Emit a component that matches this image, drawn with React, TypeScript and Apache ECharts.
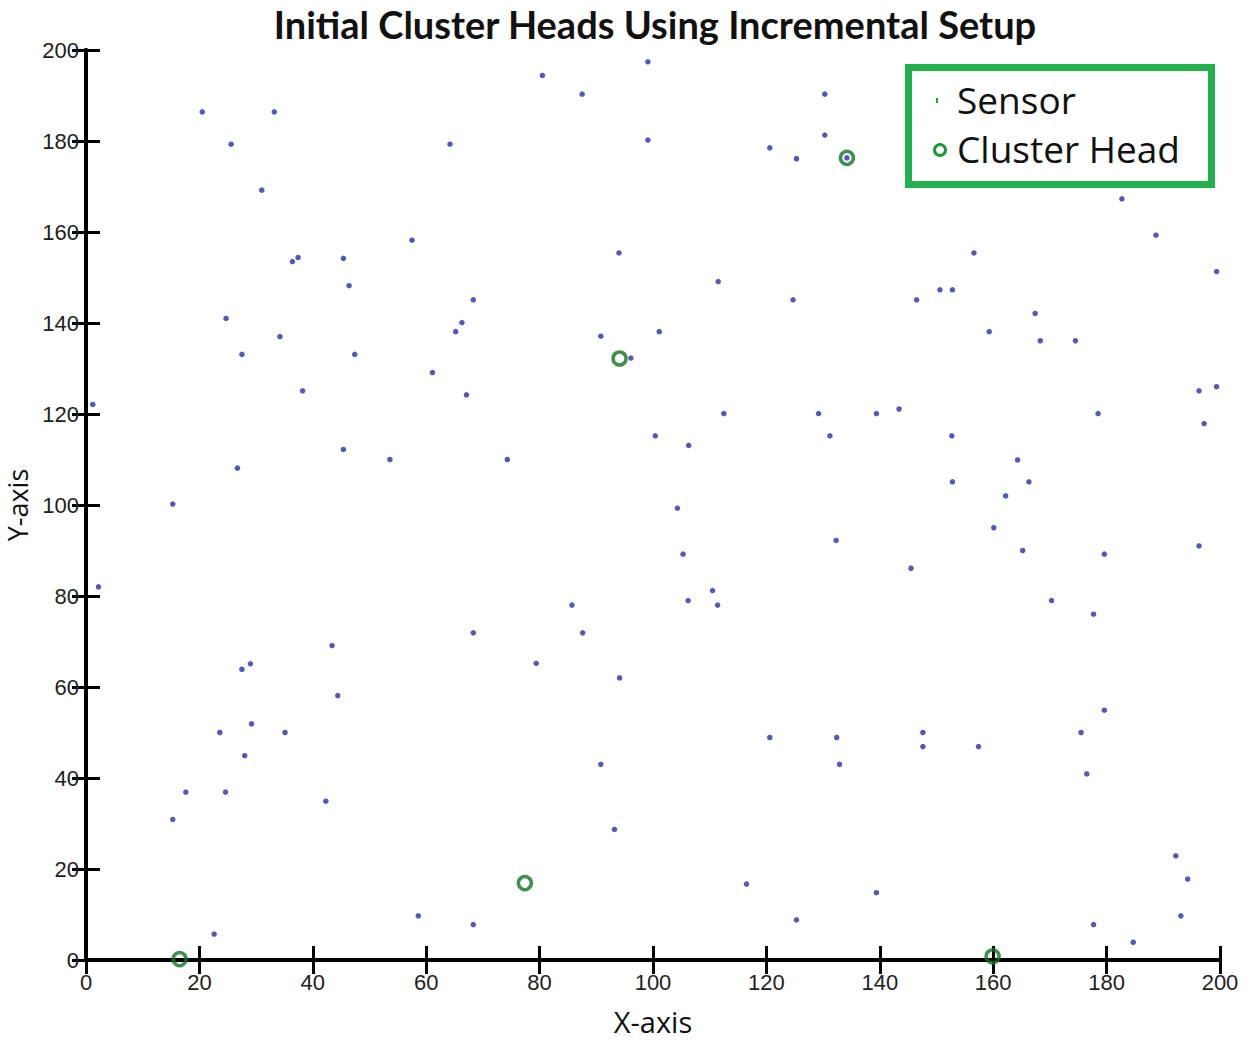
import React, { useEffect, useRef } from "react";
import * as echarts from "echarts";

const title = "Initial Cluster Heads Using Incremental Setup";
const xTicks = [0, 20, 40, 60, 80, 100, 120, 140, 160, 180, 200];
const yTicks = [0, 20, 40, 60, 80, 100, 120, 140, 160, 180, 200];

const sensors: number[][] = [
  [20.5, 186.4], [33.2, 186.4], [25.6, 179.3], [31.0, 169.2], [87.5, 190.3],
  [80.5, 194.4], [99.1, 197.4], [64.2, 179.3], [99.1, 180.2], [120.6, 178.5],
  [125.3, 176.1], [130.3, 190.3], [130.3, 181.3], [94.0, 155.4], [182.7, 167.3],
  [188.7, 159.3], [156.6, 155.4], [57.5, 158.2], [36.4, 153.5], [37.4, 154.4],
  [45.4, 154.2], [46.4, 148.2], [24.7, 141.0], [34.2, 137.0], [27.5, 133.1],
  [47.4, 133.1], [38.2, 125.1], [1.2, 122.1], [45.4, 112.2], [53.6, 110.0],
  [26.7, 108.1], [15.3, 100.2], [111.5, 149.1], [124.7, 145.1], [68.3, 145.1],
  [66.3, 140.1], [65.2, 138.1], [90.8, 137.1], [101.1, 138.1], [96.1, 132.3],
  [61.1, 129.1], [67.1, 124.2], [112.5, 120.1], [129.2, 120.1], [100.4, 115.2],
  [131.2, 115.2], [106.3, 113.1], [74.3, 110.0], [104.3, 99.3], [199.4, 151.3],
  [150.6, 147.3], [152.8, 147.3], [146.5, 145.1], [167.4, 142.1], [159.3, 138.1],
  [168.3, 136.1], [174.5, 136.1], [196.3, 125.1], [199.4, 126.0], [139.4, 120.1],
  [143.4, 121.1], [178.5, 120.1], [197.2, 117.9], [152.7, 115.2], [164.3, 109.9],
  [152.8, 105.1], [166.3, 105.1], [162.2, 102.0], [2.2, 82.0], [43.4, 69.1],
  [29.0, 65.1], [27.5, 63.9], [44.4, 58.1], [29.2, 51.9], [23.6, 50.0],
  [35.1, 50.0], [28.0, 44.9], [132.3, 92.2], [105.3, 89.2], [110.5, 81.2],
  [106.2, 79.0], [111.4, 78.0], [85.7, 78.0], [68.3, 71.9], [87.6, 71.9],
  [79.4, 65.2], [94.1, 62.0], [120.6, 48.9], [132.4, 48.9], [160.1, 95.0],
  [165.2, 90.0], [179.6, 89.2], [196.3, 91.0], [145.5, 86.1], [170.3, 79.0],
  [177.7, 76.0], [179.6, 54.9], [147.6, 50.0], [175.5, 50.0], [147.6, 46.9],
  [157.4, 46.9], [17.6, 36.9], [24.6, 36.9], [15.3, 30.9], [42.3, 34.9],
  [22.6, 5.7], [58.6, 9.7], [90.8, 43.0], [93.2, 28.7], [68.3, 7.8],
  [116.5, 16.7], [125.3, 8.8], [132.9, 43.0], [176.5, 40.9], [139.4, 14.8],
  [192.2, 22.9], [194.3, 17.8], [193.1, 9.7], [177.7, 7.8], [184.7, 3.9],
  [134.2, 176.3],
];

const clusterHeads: number[][] = [
  [16.5, 0.2], [77.4, 16.9], [94.1, 132.2], [134.2, 176.3], [159.9, 0.8],
];

const legendNames = ["Sensor", "Cluster Head"];

export default function App() {
  const ref = useRef<HTMLDivElement>(null);
  useEffect(() => {
    if (!ref.current) return;
    const chart = echarts.init(ref.current, undefined, { renderer: "svg" });
    const axisLine = { show: true, lineStyle: { color: "#000", width: 4 } };
    const tick = { show: true, inside: true, length: 14, lineStyle: { color: "#000", width: 3 } };
    const labelFont = { fontFamily: "Liberation Sans", fontSize: 22, color: "#222" };
    const option: any = {
      animation: false,
      backgroundColor: "#fff",
      title: {
        text: title,
        left: 650,
        top: 0,
        textAlign: "center",
        textStyle: { fontFamily: "Lato", fontWeight: "bold", fontSize: 38, color: "#111" },
      },
      grid: { left: 86, right: 30, top: 50, bottom: 81, containLabel: false, outerBoundsMode: "none" },
      xAxis: [
        {
          type: "value", min: 0, max: 200, interval: 20, position: "bottom",
          name: "X-axis", nameLocation: "middle", nameGap: 47,
          nameTextStyle: { fontFamily: "Open Sans", fontSize: 29, color: "#111" },
          axisLine, axisTick: tick,
          axisLabel: { ...labelFont, margin: 11, formatter: (v: number) => (xTicks.includes(v) ? String(v) : "") },
          splitLine: { show: false },
        },
        {
          type: "value", min: 0, max: 200, interval: 20, position: "top",
          axisLine, axisTick: tick, axisLabel: { show: false }, splitLine: { show: false },
        },
      ],
      yAxis: [
        {
          type: "value", min: 0, max: 200, interval: 20, position: "left",
          name: "Y-axis", nameLocation: "middle", nameGap: 45, nameRotate: 90,
          nameTextStyle: { fontFamily: "Open Sans", fontSize: 27, color: "#111", lineHeight: 28 },
          axisLine, axisTick: tick,
          axisLabel: { ...labelFont, margin: 7, formatter: (v: number) => (yTicks.includes(v) ? String(v) : "") },
          splitLine: { show: false },
        },
        {
          type: "value", min: 0, max: 200, interval: 20, position: "right",
          axisLine, axisTick: tick, axisLabel: { show: false }, splitLine: { show: false },
        },
      ],
      series: [
        {
          name: legendNames[0],
          type: "scatter",
          data: sensors,
          symbol: "circle",
          symbolSize: 5.5,
          itemStyle: { color: "#4545b0", opacity: 0.9 },
          clip: false,
          z: 2,
        },
        {
          name: legendNames[1],
          type: "scatter",
          data: clusterHeads,
          symbol: "circle",
          symbolSize: 13,
          itemStyle: { color: "rgba(255,255,255,0)", borderColor: "#0f7424", borderWidth: 3.5 },
          clip: false,
          z: 3,
        },
      ],
      graphic: [
        {
          type: "group",
          left: 905,
          top: 64,
          children: [
            { type: "rect", shape: { x: 3.5, y: 3.5, width: 303, height: 117 }, style: { fill: "#fff", stroke: "#22b14c", lineWidth: 7 } },
            { type: "rect", shape: { x: 31, y: 34, width: 2, height: 5 }, style: { fill: "#22a040" } },
            { type: "text", x: 52, y: 35, style: { text: legendNames[0], font: "37px 'Open Sans'", fill: "#111", textVerticalAlign: "middle" } },
            { type: "circle", shape: { cx: 35, cy: 86, r: 5.5 }, style: { fill: "none", stroke: "#1a9a35", lineWidth: 3 } },
            { type: "text", x: 52, y: 84, style: { text: legendNames[1], font: "37px 'Open Sans'", fill: "#111", textVerticalAlign: "middle" } },
          ],
        },
      ],
    };
    chart.setOption(option);
    return () => chart.dispose();
  }, []);
  return <div ref={ref} style={{ position: "fixed", left: 0, top: 0, width: 1250, height: 1041 }} />;
}
